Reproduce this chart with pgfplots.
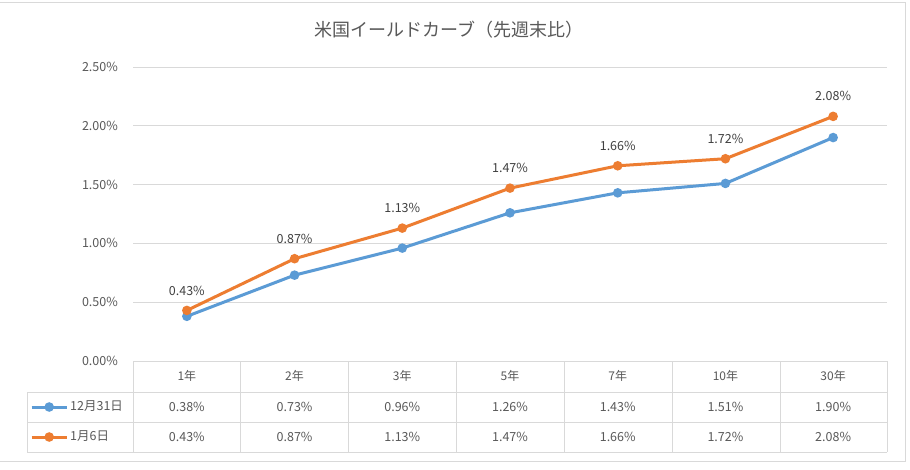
\documentclass[border=0pt]{standalone}
\usepackage{fontspec}
\setmainfont{Noto Sans CJK JP}
\usepackage{pgfplots}
\usepackage{pgfplotstable}
\pgfplotsset{compat=1.18}
\definecolor{cblue}{HTML}{5B9BD5}
\definecolor{corange}{HTML}{ED7D31}
\definecolor{gridc}{HTML}{D9D9D9}
\definecolor{txt}{HTML}{595959}
\definecolor{lbl}{HTML}{404040}
\pgfplotstableread{
x name a b
0 1年 0.38 0.43
1 2年 0.73 0.87
2 3年 0.96 1.13
3 5年 1.26 1.47
4 7年 1.43 1.66
5 10年 1.51 1.72
6 30年 1.90 2.08
}\datatable
\begin{document}
\begin{tikzpicture}[x=1pt,y=1pt]
\path[use as bounding box, fill=white] (0pt,0pt) rectangle (910pt,469pt);
\draw[gridc, line width=1pt] (0pt,466pt) -- (905pt,466pt) -- (905pt,8pt) -- (0pt,8pt);
\node[text=txt, font=\fontsize{18}{20}\selectfont] at (449pt,439pt) {米国イールドカーブ（先週末比）};
\begin{axis}[
  at={(133pt,108pt)}, anchor=south west,
  scale only axis, width=754pt, height=294pt,
  xmin=-0.5, xmax=6.5, ymin=0, ymax=2.5,
  ytick={0,0.5,1,1.5,2,2.5},
  xtick=data,
  xticklabels from table={\datatable}{name},
  xticklabel style={anchor=center, yshift=-15pt, text=txt, font=\fontsize{12}{14}\selectfont},
  yticklabel={\pgfmathprintnumber[fixed,fixed zerofill,precision=2]{\tick}\%},
  yticklabel style={anchor=east, inner sep=0pt, xshift=-15pt, text=txt, font=\fontsize{12.5}{14}\selectfont},
  /pgf/number format/assume math mode=true,
  ymajorgrids, grid style={gridc, line width=0.9pt},
  axis line style={draw=none},
  major tick length=0pt,
  clip=false,
  legend style={at={(axis description cs:-0.1366,-0.2075)}, anchor=west, draw=none, fill=none,
    inner sep=0pt, row sep=19pt, column sep=2pt,
    nodes={inner sep=0pt, text height=8.5pt, text depth=2.5pt, text=txt, font=\fontsize{12.5}{14}\selectfont}},
  legend cell align=left,
  legend image code/.code={\draw[#1, mark repeat=2, mark phase=2] plot coordinates {(0pt,0pt) (17.5pt,0pt) (35pt,0pt)};},
]
\addplot[cblue, line width=3pt, mark=*, mark size=3.2pt] table[x=x, y=a] {\datatable};
\addlegendentry{12月31日}
\addplot[corange, line width=3pt, mark=*, mark size=3.2pt,
  nodes near coords={\pgfmathprintnumber[fixed,fixed zerofill,precision=2]{\pgfplotspointmeta}\%},
  point meta=explicit,
  nodes near coords style={anchor=center, yshift=20pt, inner sep=0pt, text=lbl, font=\fontsize{12.5}{14}\selectfont}]
  table[x=x, y=b, meta=b] {\datatable};
\addlegendentry{1月6日}
\addplot[draw=none, mark=none, forget plot,
  nodes near coords={\pgfmathprintnumber[fixed,fixed zerofill,precision=2]{\pgfplotspointmeta}\%},
  point meta=explicit,
  nodes near coords style={anchor=center, inner sep=0pt, text=txt, font=\fontsize{12.5}{14}\selectfont}]
  table[x=x, y expr=-0.391, meta=a] {\datatable};
\addplot[draw=none, mark=none, forget plot,
  nodes near coords={\pgfmathprintnumber[fixed,fixed zerofill,precision=2]{\pgfplotspointmeta}\%},
  point meta=explicit,
  nodes near coords style={anchor=center, inner sep=0pt, text=txt, font=\fontsize{12.5}{14}\selectfont}]
  table[x=x, y expr=-0.646, meta=b] {\datatable};
\end{axis}
\begin{scope}[gridc, line width=0.9pt]
\draw (133pt,108pt) -- (887pt,108pt);
\draw (27pt,77pt) -- (887pt,77pt);
\draw (27pt,47pt) -- (887pt,47pt);
\draw (27pt,17pt) -- (887pt,17pt);
\draw (27pt,77pt) -- (27pt,17pt);
\foreach \xx in {133,240,348,456,564,672,780,887} {\draw (\xx pt,108pt) -- (\xx pt,17pt);}
\end{scope}
\end{tikzpicture}
\end{document}
